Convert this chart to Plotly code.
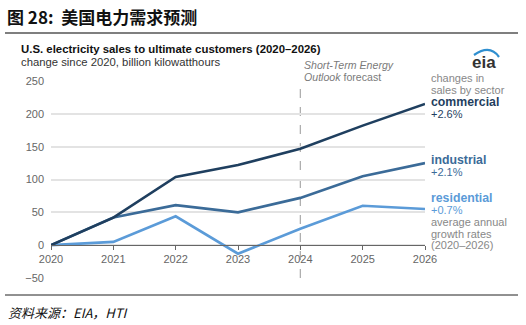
import plotly.graph_objects as go

years = [2020, 2021, 2022, 2023, 2024, 2025, 2026]
commercial = [0, 42, 104, 122, 147, 182, 215]
industrial = [0, 42, 61, 50, 72, 105, 125]
residential = [0, 5, 44, -13, 25, 60, 55]
y_ticks = [-50, 0, 50, 100, 150, 200, 250]

C_COM = "#1f3f5f"
C_IND = "#3b6b98"
C_RES = "#5b9bd8"
GRAY = "#7a7a7a"

W, H = 526, 325
L, R, T, B = 51, 101, 81, 47
PW, PH = W - L - R, H - T - B


def px(x):
    return (x - L) / PW


def py(y):
    return (H - B - y) / PH


fig = go.Figure()
for name, vals, col in [("residential", residential, C_RES),
                        ("industrial", industrial, C_IND),
                        ("commercial", commercial, C_COM)]:
    fig.add_trace(go.Scatter(x=years, y=vals, mode="lines", name=name,
                             line=dict(color=col, width=2.6),
                             hoverinfo="skip"))

font = "Liberation Sans, Arial, sans-serif"
cjk = "Noto Sans CJK SC"

fig.update_layout(
    width=W, height=H,
    margin=dict(l=L, r=R, t=T, b=B),
    paper_bgcolor="white", plot_bgcolor="white",
    showlegend=False,
    font=dict(family=font, size=11, color="#666"),
    xaxis=dict(range=[2020, 2026], tickvals=years, showgrid=False,
               zeroline=False, anchor="free", position=50 / 300,
               showline=True, linecolor="#666", linewidth=1,
               ticks="outside", ticklen=4, tickcolor="#666",
               tickfont=dict(size=11, color="#666"), fixedrange=True),
    yaxis=dict(range=[-50, 250], tickvals=y_ticks, showgrid=True,
               gridcolor="#e3e3e3", gridwidth=1.5, zeroline=False,
               showline=False, ticks="", ticklabelstandoff=6,
               tickfont=dict(size=11, color="#666"), fixedrange=True),
)

# forecast divider
fig.add_shape(type="line", xref="x", yref="y", x0=2024, x1=2024, y0=-50, y1=250,
              line=dict(color="#aaa", width=1.2, dash="dash"), layer="below")

# header / footer rules
fig.add_shape(type="line", xref="paper", yref="paper", x0=px(5), x1=px(518),
              y0=py(33), y1=py(33), line=dict(color="#555", width=1.5))
fig.add_shape(type="line", xref="paper", yref="paper", x0=px(5), x1=px(518),
              y0=py(295), y1=py(295), line=dict(color="#222", width=1))

# eia logo arc
ax0, ay0 = px(474), py(55)
ax1, ay1 = px(499), py(57)
cx, cy = px(490), py(44)
fig.add_shape(type="path", xref="paper", yref="paper",
              path=f"M {ax0},{ay0} Q {cx},{cy} {ax1},{ay1}",
              line=dict(color="#2f8fd0", width=2.2))


def ann(x, y, text, size=11, color=GRAY, family=font, xanchor="left"):
    fig.add_annotation(xref="paper", yref="paper", x=px(x), y=py(y), text=text,
                       showarrow=False, xanchor=xanchor, yanchor="middle",
                       font=dict(size=size, color=color, family=family))


ann(5, 16, "<b>图 28:&nbsp;&nbsp;美国电力需求预测</b>", size=17, color="#111", family=cjk)
ann(6, 312, "<i>资料来源：EIA，HTI</i>", size=13, color="#111", family=cjk)

ann(19, 49, "<b>U.S. electricity sales to ultimate customers (2020–2026)</b>", size=11.4, color="#111")
ann(19, 62, "change since 2020, billion kilowatthours", size=11.3, color="#333")

ann(302, 65, "<i>Short-Term Energy</i>", size=10.6, color=GRAY)
ann(302, 77, "<i>Outlook</i> forecast", size=10.6, color=GRAY)

ann(484, 63, "<b>eia</b>", size=17, color="#333", xanchor="center")

ann(429, 78, "changes in", size=11, color="#888")
ann(429, 90, "sales by sector", size=11, color="#888")
ann(429, 102, "<b>commercial</b>", size=12.3, color=C_COM)
ann(429, 114, "+2.6%", size=11, color=C_COM)
ann(429, 160, "<b>industrial</b>", size=12.3, color=C_IND)
ann(429, 172, "+2.1%", size=11, color=C_IND)
ann(429, 198, "<b>residential</b>", size=12.3, color=C_RES)
ann(429, 210, "+0.7%", size=11, color=C_RES)
ann(429, 222, "average annual", size=11, color="#888")
ann(429, 234, "growth rates", size=11, color="#888")
ann(429, 245, "(2020–2026)", size=11, color="#888")

fig.write_html("out.html")
